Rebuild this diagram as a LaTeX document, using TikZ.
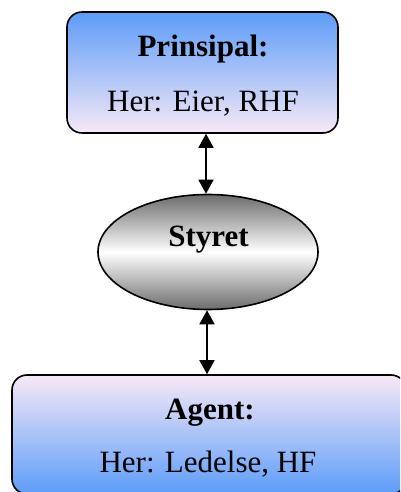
\documentclass[tikz,border=0pt]{standalone}
\usepackage{fontspec}
\setmainfont{Liberation Serif}
\usetikzlibrary{shapes.geometric,arrows.meta}

\definecolor{boxblue}{HTML}{5C9CF8}
\definecolor{boxmid}{HTML}{8CBCF6}
\definecolor{boxpink}{HTML}{F7E9F7}
\definecolor{ovalgray}{HTML}{6C6C6C}

\tikzset{
  rolebox/.style={draw=black, line width=1.6pt, rounded corners=15pt,
    inner sep=0pt},
  boardoval/.style={ellipse, draw=black, line width=1.6pt, inner sep=0pt,
    minimum width=220pt, minimum height=115pt,
    top color=ovalgray, bottom color=ovalgray, middle color=white},
  headtext/.style={font=\fontsize{31}{37}\selectfont\bfseries, inner sep=0pt, anchor=base},
  roletext/.style={font=\fontsize{31}{37}\selectfont, inner sep=0pt, anchor=base},
  link/.style={line width=1.8pt,
    {Triangle[width=15pt,length=14pt]}-{Triangle[width=15pt,length=14pt]}}
}

\begin{document}
\begin{tikzpicture}[x=1pt,y=1pt]
  \useasboundingbox (0,0) rectangle (400,492);
  \clip (0,0) rectangle (400,492);

  % principal (owner)
  \node[rolebox, minimum width=271pt, minimum height=121pt,
        top color=boxblue, middle color=boxmid, bottom color=boxpink]
    (prinsipal) at (202.5,419.5) {};
  \node[headtext] (prinsipalhead) at (203,435) {Prinsipal:};
  \node[roletext] (prinsipalrole) at (203,380) {Her: Eier, RHF};

  % the board
  \node[boardoval] (styret) at (208,240) {};
  \node[headtext] (styretlbl) at (208.5,245) {Styret};

  % agent (management), running past the page edge
  \node[rolebox, minimum width=394pt, minimum height=119pt,
        top color=boxpink, middle color=boxmid, bottom color=boxblue]
    (agent) at (209,57.5) {};
  \node[headtext] (agenthead) at (210,72) {Agent:};
  \node[roletext] (agentrole) at (208,19) {Her: Ledelse, HF};

  % two-way links
  \draw[link] (prinsipal.south -| 206,0) -- (styret.north -| 206,0);
  \draw[link] (styret.south -| 207,0) -- (agent.north -| 207,0);
\end{tikzpicture}
\end{document}
